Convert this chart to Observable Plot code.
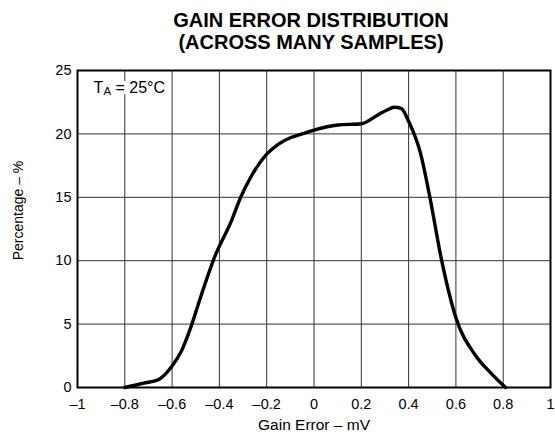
<!DOCTYPE html>
<html>
<head>
<meta charset="utf-8">
<script src="https://cdn.jsdelivr.net/npm/d3@7"></script>
<script src="https://cdn.jsdelivr.net/npm/@observablehq/plot@0.6"></script>
<style>
  html, body { margin: 0; padding: 0; background: #fff; }
  #chart svg { display: block; }
</style>
</head>
<body>
<div id="chart"></div>
<script>
// Data
const gainError = [-0.8, -0.72, -0.66, -0.6, -0.56, -0.52, -0.48, -0.42, -0.35, -0.31, -0.27, -0.2, -0.15, -0.1, -0.05, 0, 0.1, 0.2, 0.27, 0.305, 0.34, 0.37, 0.4, 0.45, 0.49, 0.54, 0.6, 0.68, 0.75, 0.81];
const percentage = [0, 0.35, 0.6, 1.7, 2.9, 4.8, 7.1, 10.3, 13.1, 15.0, 16.5, 18.4, 19.2, 19.7, 20.0, 20.3, 20.7, 20.8, 21.5, 21.85, 22.1, 22.0, 21.0, 18.5, 15, 10, 5.5, 2.6, 1.1, 0];
const xTicks = [-1, -0.8, -0.6, -0.4, -0.2, 0, 0.2, 0.4, 0.6, 0.8, 1];
const xTickLabels = ["–1", "–0.8", "–0.6", "–0.4", "–0.2", "0", "0.2", "0.4", "0.6", "0.8", "1"];
const yTicks = [0, 5, 10, 15, 20, 25];
const yTickLabels = ["0", "5", "10", "15", "20", "25"];
const titleLines = ["GAIN ERROR DISTRIBUTION", "(ACROSS MANY SAMPLES)"];
const xLabel = "Gain Error – mV";
const yLabel = "Percentage – %";

const data = gainError.map((x, i) => ({x, y: percentage[i]}));
const font = "'Liberation Sans', Arial, sans-serif";

const chart = Plot.plot({
  width: 555,
  height: 435,
  marginLeft: 77,
  marginRight: 5,
  marginTop: 70,
  marginBottom: 48,
  style: {fontFamily: font, fontSize: "14.5px", color: "#000", background: "#fff"},
  x: {domain: [-1, 1], ticks: xTicks, tickFormat: d => xTickLabels[xTicks.indexOf(d)], tickSize: 0, tickPadding: 11, label: null},
  y: {domain: [0, 25], ticks: yTicks, tickFormat: d => yTickLabels[yTicks.indexOf(d)], tickSize: 0, tickPadding: 6, label: null},
  marks: [
    Plot.gridX(xTicks, {stroke: "#333", strokeOpacity: 1, strokeWidth: 1}),
    Plot.gridY(yTicks, {stroke: "#333", strokeOpacity: 1, strokeWidth: 1}),
    Plot.text(["T"], {frameAnchor: "top-left", dx: 16, dy: 22, lineAnchor: "bottom", fontSize: 16, textAnchor: "start", stroke: "white", strokeWidth: 8, fill: "black"}),
    Plot.text(["A"], {frameAnchor: "top-left", dx: 26, dy: 24.5, lineAnchor: "bottom", fontSize: 11.5, textAnchor: "start", stroke: "white", strokeWidth: 8, fill: "black"}),
    Plot.text(["= 25°C"], {frameAnchor: "top-left", dx: 38, dy: 22, lineAnchor: "bottom", fontSize: 16, textAnchor: "start", stroke: "white", strokeWidth: 8, fill: "black"}),
    Plot.line(data, {x: "x", y: "y", curve: "monotone-x", stroke: "black", strokeWidth: 3.4, strokeLinejoin: "round", strokeLinecap: "round"}),
    Plot.frame({stroke: "black", strokeWidth: 2}),
    Plot.text([titleLines.join("\n")], {frameAnchor: "top", dx: -3, dy: -22, lineAnchor: "bottom", lineHeight: 1.1, fontSize: 20, fontWeight: "bold", fill: "black"}),
    Plot.text([xLabel], {frameAnchor: "bottom", dx: 0, dy: 42, lineAnchor: "bottom", fontSize: 15.5, fill: "black"}),
    Plot.text([yLabel], {frameAnchor: "left", dx: -59, dy: -18.5, rotate: -90, textAnchor: "middle", fontSize: 14, fill: "black"})
  ]
});
document.getElementById("chart").appendChild(chart);
</script>
</body>
</html>
